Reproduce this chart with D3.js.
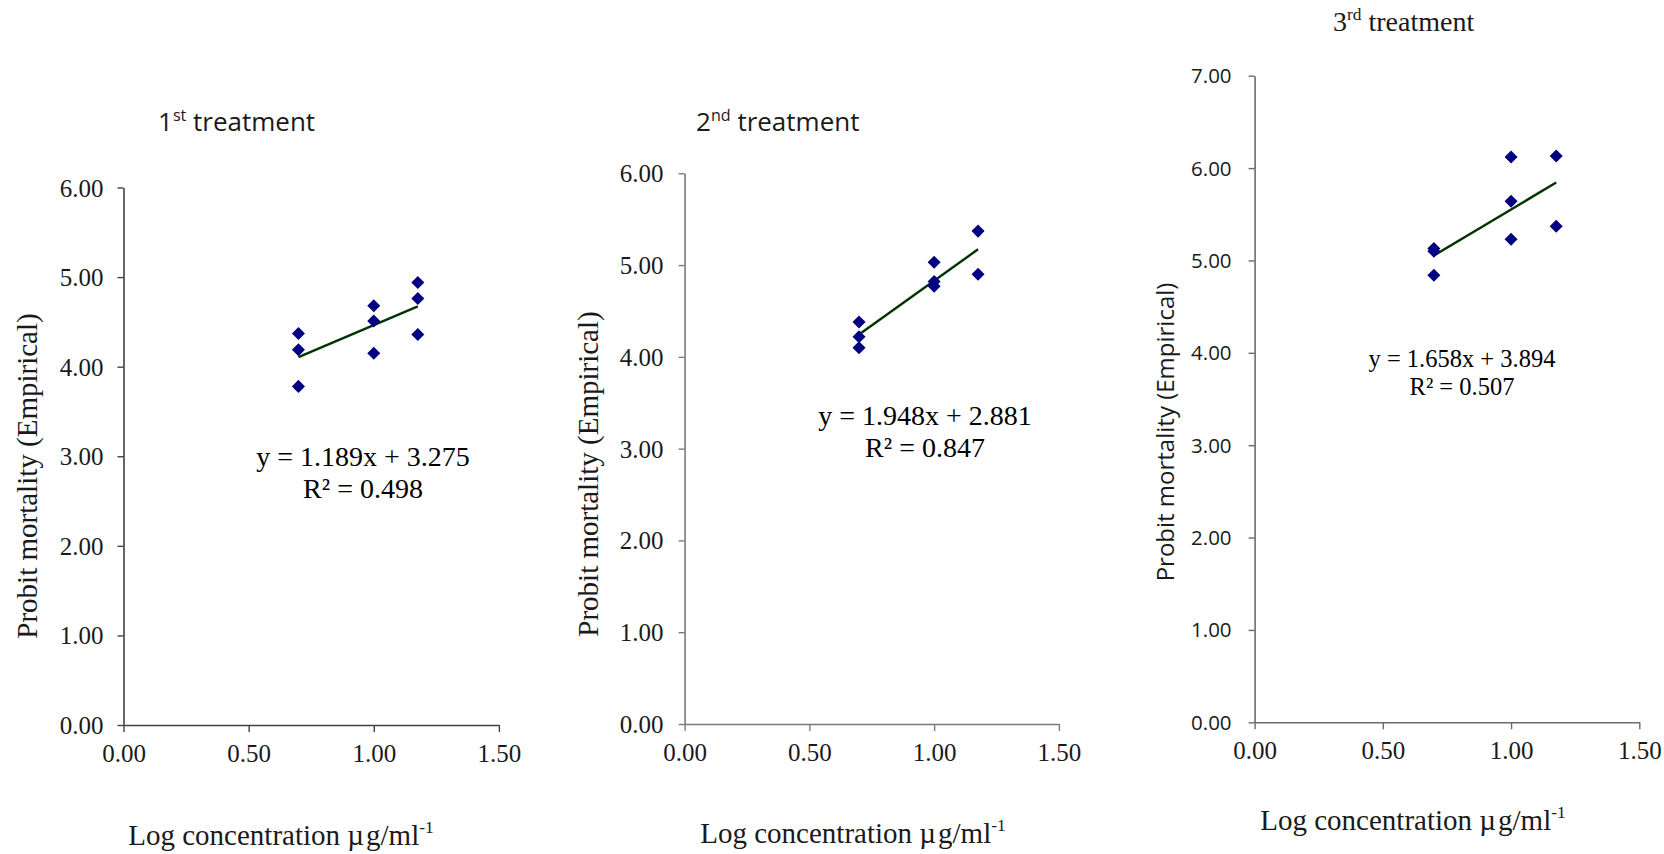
<!DOCTYPE html>
<meta charset="utf-8">
<script src="https://d3js.org/d3.v7.min.js"></script>
<style>
  body { margin: 0; background: #fff; }
</style>
<div id="chart"></div>
<script>
    // log concentration of each replicate (log10 of 5, 10, 15 µg/ml)
    var logConc = [0.699, 0.699, 0.699, 1.0, 1.0, 1.0, 1.176, 1.176, 1.176];
    var logConc8 = [0.699, 0.699, 0.699, 1.0, 1.0, 1.0, 1.176, 1.176];

    // empirical probit mortality
    var probit1 = [4.37, 4.19, 3.78, 4.68, 4.51, 4.15, 4.94, 4.76, 4.36];
    var probit2 = [4.38, 4.22, 4.10, 5.03, 4.82, 4.77, 5.37, 4.90];
    var probit3 = [5.13, 5.10, 4.84, 6.12, 5.64, 5.23, 6.13, 5.37];

    // fitted lines as printed on the chart
    var slopes = [1.189, 1.948, 1.658];
    var intercepts = [3.275, 2.881, 3.894];
    var rSquared = [0.498, 0.847, 0.507];

    var titles = [["1", "st", " treatment"], ["2", "nd", " treatment"], ["3", "rd", " treatment"]];
    var xTicks = [0, 0.5, 1.0, 1.5];
    var yTicks6 = [0, 1, 2, 3, 4, 5, 6];
    var yTicks7 = [0, 1, 2, 3, 4, 5, 6, 7];

    var serif = "'Liberation Serif', 'Times New Roman', serif";
    var sans = "'Open Sans', 'Noto Sans', sans-serif";

    var svg = d3.select("#chart").append("svg")
        .attr("width", 1664)
        .attr("height", 854);

    var panels = [
      { xs: logConc, ys: probit1, yMax: 6, yTicks: yTicks6,
        x0: 123.5, x1: 498.9, y0: 725, y1: 187.5, axisColor: "#404040",
        yTickFont: serif, yTickSize: 25, yPad: 14,
        title: { font: sans, size: 26, x: 158, y: 131 },
        eq: { x: 363, y: 466, size: 28 },
        xTitle: { x: 281, y: 845, size: 29 },
        yTitle: { x: 37, y: 476, font: serif, size: 29 } },
      { xs: logConc8, ys: probit2, yMax: 6, yTicks: yTicks6,
        x0: 684.6, x1: 1058.9, y0: 724, y1: 173.3, axisColor: "#7a7a7a",
        yTickFont: serif, yTickSize: 25, yPad: 15,
        title: { font: sans, size: 26, x: 696, y: 131 },
        eq: { x: 925, y: 425, size: 28 },
        xTitle: { x: 853, y: 843, size: 29 },
        yTitle: { x: 598, y: 474, font: serif, size: 29 } },
      { xs: logConc8, ys: probit3, yMax: 7, yTicks: yTicks7,
        x0: 1254.6, x1: 1639.3, y0: 722.3, y1: 75.7, axisColor: "#6a6a6a",
        yTickFont: sans, yTickSize: 20.5, yPad: 17,
        title: { font: serif, size: 28, x: 1333, y: 31 },
        eq: { x: 1462, y: 366.5, size: 24.5 },
        xTitle: { x: 1413, y: 830, size: 29 },
        yTitle: { x: 1173.5, y: 432, font: sans, size: 24 } }
    ];

    panels.forEach(function(p, i) {
      var g = svg.append("g");

      var x = d3.scaleLinear().domain([0, 1.5]).range([p.x0, p.x1]);
      var y = d3.scaleLinear().domain([0, p.yMax]).range([p.y0, p.y1]);

      // X axis
      var xAxis = g.append("g")
          .attr("transform", "translate(0," + p.y0 + ")")
          .call(d3.axisBottom(x).tickValues(xTicks).tickFormat(d3.format(".2f"))
                .tickSize(7).tickPadding(12).tickSizeOuter(0));
      xAxis.attr("font-family", serif).attr("font-size", 25);
      xAxis.selectAll("text").attr("fill", "#1a1a1a");

      // Y axis
      var yAxis = g.append("g")
          .attr("transform", "translate(" + p.x0 + ",0)")
          .call(d3.axisLeft(y).tickValues(p.yTicks).tickFormat(d3.format(".2f"))
                .tickSize(6).tickPadding(p.yPad).tickSizeOuter(0));
      yAxis.attr("font-family", p.yTickFont).attr("font-size", p.yTickSize);
      yAxis.selectAll("text").attr("fill", "#1a1a1a").attr("dy", "0.34em");

      [xAxis, yAxis].forEach(function(a) {
        a.select(".domain").attr("stroke", p.axisColor).attr("stroke-width", 1.6);
        a.selectAll(".tick line").attr("stroke", p.axisColor).attr("stroke-width", 1.4);
      });

      // trend line from the printed equation
      var xMin = d3.min(p.xs), xMax = d3.max(p.xs);
      var fit = function(v) { return slopes[i] * v + intercepts[i]; };
      g.append("line")
          .attr("x1", x(xMin)).attr("y1", y(fit(xMin)))
          .attr("x2", x(xMax)).attr("y2", y(fit(xMax)))
          .attr("stroke", "#003300")
          .attr("stroke-width", 2.4);

      // diamond markers (squares turned 45 degrees)
      g.selectAll(".pt")
        .data(p.ys)
        .enter().append("path")
          .attr("d", d3.symbol().type(d3.symbolSquare).size(85))
          .attr("transform", function(d, j) { return "translate(" + x(p.xs[j]) + "," + y(d) + ") rotate(45)"; })
          .attr("fill", "#000080");

      // panel title with superscript
      var t = g.append("text")
          .attr("x", p.title.x).attr("y", p.title.y)
          .style("font-family", p.title.font).style("font-size", p.title.size + "px")
          .attr("fill", "#1a1a1a");
      t.append("tspan").text(titles[i][0]);
      t.append("tspan").attr("dy", -p.title.size * 0.38).style("font-size", (p.title.size * 0.62) + "px").text(titles[i][1]);
      t.append("tspan").attr("dy", p.title.size * 0.38).text(titles[i][2]);

      // equation and R²
      g.append("text")
          .attr("x", p.eq.x).attr("y", p.eq.y)
          .attr("text-anchor", "middle")
          .style("font-family", serif).style("font-size", p.eq.size + "px")
          .text("y = " + d3.format(".3f")(slopes[i]) + "x + " + d3.format(".3f")(intercepts[i]));
      g.append("text")
          .attr("x", p.eq.x).attr("y", p.eq.y + p.eq.size * 1.15)
          .attr("text-anchor", "middle")
          .style("font-family", serif).style("font-size", p.eq.size + "px")
          .text("R² = " + d3.format(".3f")(rSquared[i]));

      // x axis title
      var xt = g.append("text")
          .attr("x", p.xTitle.x).attr("y", p.xTitle.y)
          .attr("text-anchor", "middle")
          .style("font-family", serif).style("font-size", p.xTitle.size + "px")
          .attr("fill", "#1a1a1a");
      xt.append("tspan").text("Log concentration µ");
      xt.append("tspan").attr("dx", 2).text("g/ml");
      xt.append("tspan").attr("dy", -p.xTitle.size * 0.4).style("font-size", (p.xTitle.size * 0.6) + "px").text("-1");

      // y axis title
      g.append("text")
          .attr("transform", "translate(" + p.yTitle.x + "," + p.yTitle.y + ") rotate(-90)")
          .attr("text-anchor", "middle")
          .style("font-family", p.yTitle.font).style("font-size", p.yTitle.size + "px")
          .attr("fill", "#1a1a1a")
          .text("Probit mortality (Empirical)");
    });
</script>
